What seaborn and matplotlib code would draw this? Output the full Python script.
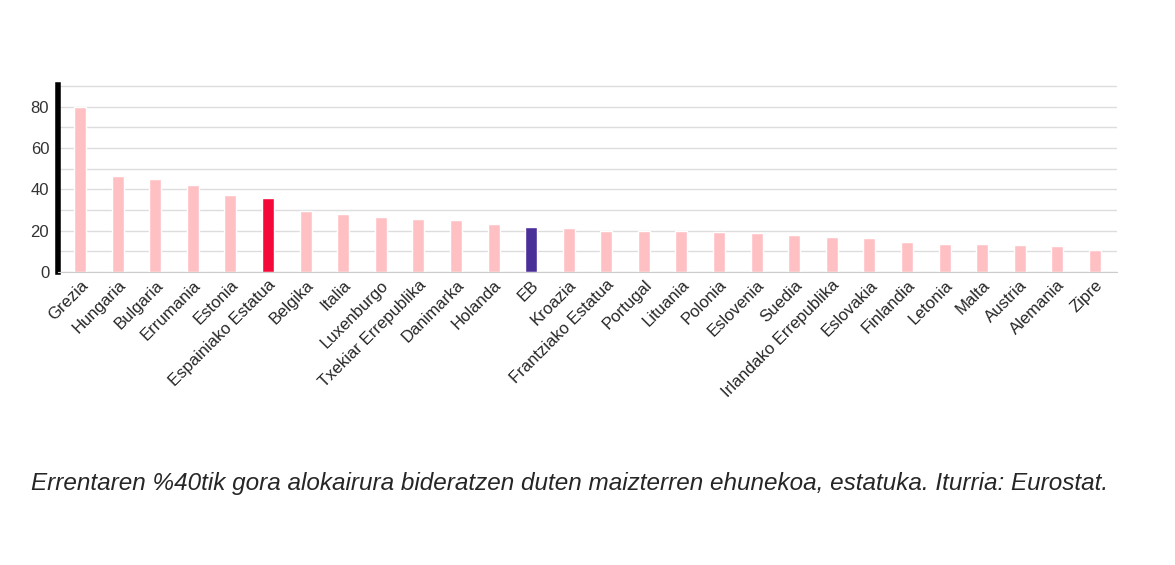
import matplotlib
matplotlib.use('Agg')
import matplotlib.pyplot as plt
import seaborn as sns
import pandas as pd

countries = ['Grezia', 'Hungaria', 'Bulgaria', 'Errumania', 'Estonia', 'Espainiako Estatua',
             'Belgika', 'Italia', 'Luxenburgo', 'Txekiar Errepublika', 'Danimarka', 'Holanda',
             'EB', 'Kroazia', 'Frantziako Estatua', 'Portugal', 'Lituania', 'Polonia',
             'Eslovenia', 'Suedia', 'Irlandako Errepublika', 'Eslovakia', 'Finlandia',
             'Letonia', 'Malta', 'Austria', 'Alemania', 'Zipre']
values = [80, 46.6, 45, 42, 37, 36, 29.6, 28, 26.7, 25.7, 25, 23, 21.5, 21, 20, 20, 20,
          19.5, 19, 18, 17, 16.5, 14.5, 13.5, 13.5, 13, 12.5, 10.5]

colors = {c: '#ffc0c4' for c in countries}
colors['Espainiako Estatua'] = '#f5093a'
colors['EB'] = '#4b2f98'

df = pd.DataFrame({'country': countries, 'value': values})

sns.set_style('white')
plt.rcParams['font.family'] = ['Liberation Sans', 'DejaVu Sans']
fig = plt.figure(figsize=(11.75, 5.65), dpi=100)
ax = fig.add_axes([0.049, 0.519, 0.902, 0.331])
sns.barplot(data=df, x='country', y='value', hue='country', palette=colors,
            width=0.32, legend=False, ax=ax, saturation=1)

ax.set_ylim(0, 90.7)
ax.set_xlim(-0.6, len(countries) - 0.4)
ax.set_yticks(range(0, 81, 20))
ax.set_yticks(range(0, 91, 10), minor=True)
ax.grid(axis='y', which='both', color='#dddddd', linewidth=1)
ax.set_axisbelow(True)
ax.tick_params(axis='y', labelsize=12, colors='#333333', length=0, pad=6)
ax.set_xticks(range(len(countries)))
ax.set_xticklabels(countries, rotation=45, ha='right', rotation_mode='anchor', fontsize=12)
ax.tick_params(axis='x', length=0, pad=4)
ax.set_xlabel('')
ax.set_ylabel('')
for s in ['top', 'right']:
    ax.spines[s].set_visible(False)
ax.spines['bottom'].set_color('#cccccc')
ax.spines['left'].set_color('black')
ax.spines['left'].set_linewidth(4)

fig.text(0.026, 0.145, 'Errentaren %40tik gora alokairura bideratzen duten maizterren ehunekoa, estatuka. Iturria: Eurostat.',
         fontsize=17.5, style='italic', va='center')

fig.savefig('out.png', dpi=100)
